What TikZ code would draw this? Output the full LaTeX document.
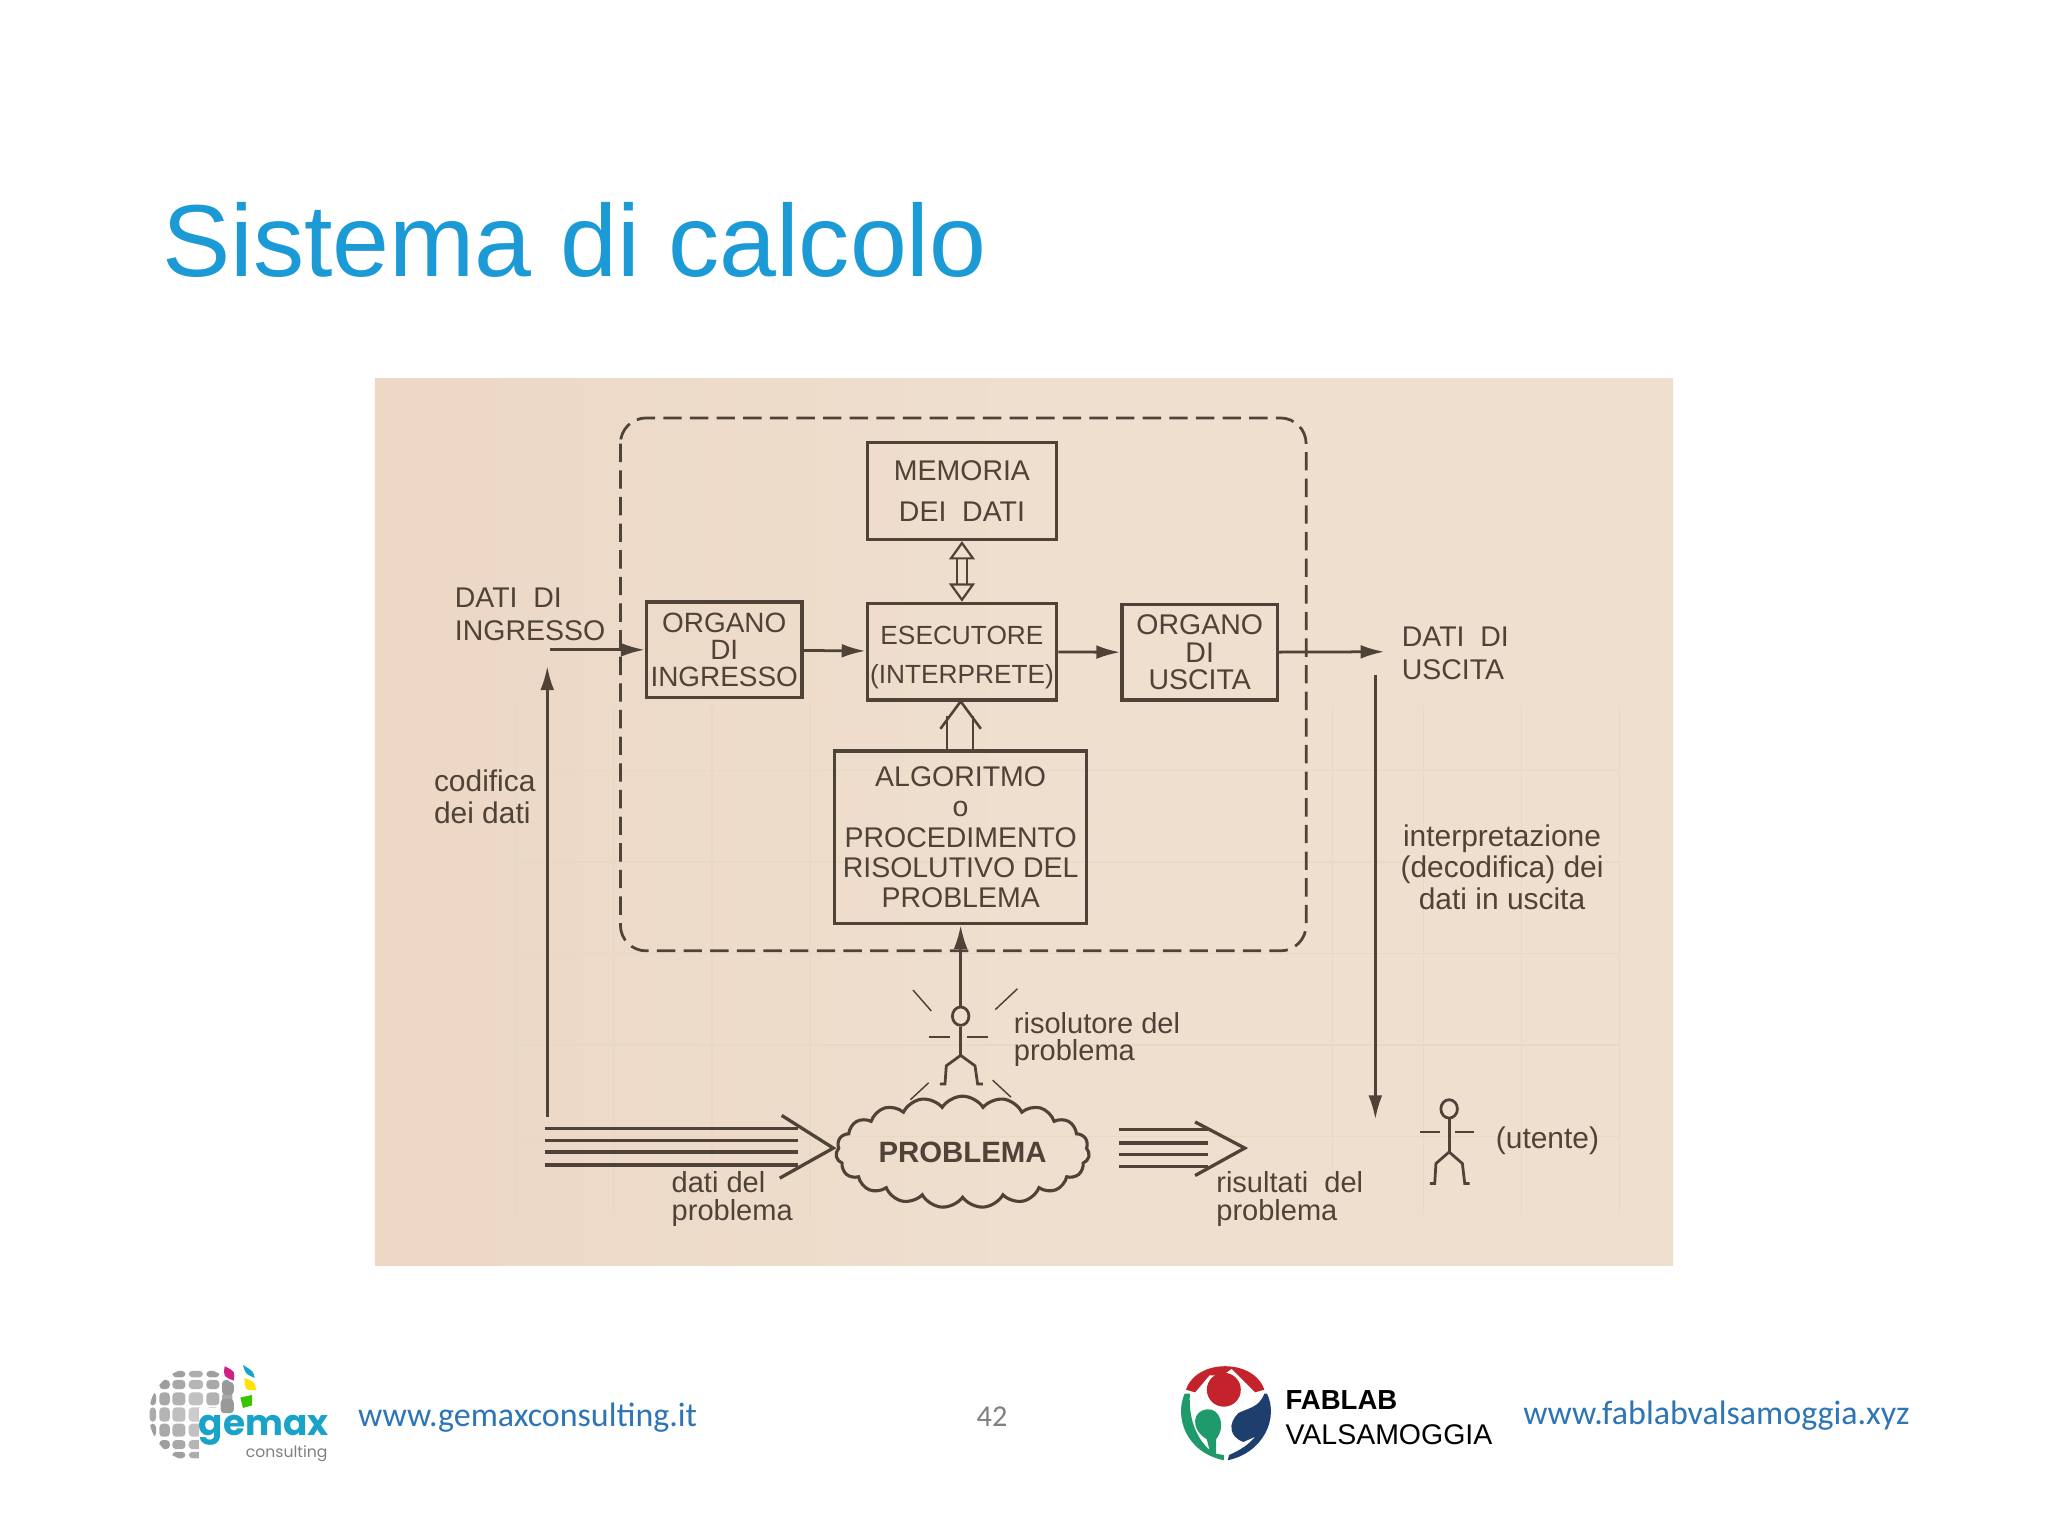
\documentclass[tikz,border=0pt]{standalone}
\usepackage{fontspec}
\setmainfont{Liberation Sans}
\newfontfamily\footfont{Carlito}
\newfontfamily\logofont{Poppins}
\usetikzlibrary{arrows.meta,shapes.symbols,shapes.geometric}
\definecolor{ink}{HTML}{4F4338}
\definecolor{paper}{HTML}{EEDFCE}
\definecolor{paperedge}{HTML}{EDD7C5}
\definecolor{ghost}{HTML}{E8D9C7}
\definecolor{titleblue}{HTML}{1B9AD6}
\definecolor{linkblue}{HTML}{2E75B6}
\definecolor{gemaxcyan}{HTML}{19A3C9}
\definecolor{labred}{HTML}{C4232B}
\definecolor{labgreen}{HTML}{1F9A6B}
\definecolor{labblue}{HTML}{1E3F6E}
\tikzset{
	labeltext/.style={text=ink,inner sep=0pt,align=#1,font=\fontsize{16.3}{17}\selectfont},
	blockbox/.style={draw=ink,line width=1.8pt,text=ink,inner sep=0pt,align=center},
	flow/.style={draw=ink,line width=1.5pt,->,>={Latex[length=13pt,width=7.5pt]}},
	linktext/.style={text=linkblue,inner sep=0pt,font=\footfont\fontsize{18.5}{20}\selectfont},
	stickman/.pic={
		\node[draw=ink,line width=1.5pt,ellipse,minimum width=9pt,minimum height=10pt,inner sep=0pt] (-head) at (0,0) {};
		\draw[draw=ink,line width=1.5pt] (-head) -- (0,30);
		\draw[draw=ink,line width=1.5pt] (-24,16) -- (-8,16) (5,16) -- (21,16);
		\draw[draw=ink,line width=1.5pt] (-16,52) -- (-12,52) -- (-11,38) -- (0,30) -- (11,38) -- (13,52) -- (17,52);
	}
}
\begin{document}
\begin{tikzpicture}[x=0.025cm,y=-0.025cm]
		\useasboundingbox (0,0) rectangle (1568,1176);
		\node[anchor=base west,inner sep=0pt,text=titleblue,font=\fontsize{55.7}{60}\selectfont] (title) at (124,212) {Sistema di calcolo};

		\fill[left color=paperedge,right color=paper,middle color=paper] (287,290) rectangle (1281,969);
		\foreach \gx in {395,470,545,620,1020,1090,1165,1240}
			\draw[ghost,line width=0.8pt] (\gx,540) -- (\gx,930);
		\foreach \gy in {590,660,730,800,870}
			\draw[ghost,line width=0.8pt] (395,\gy) -- (1240,\gy);

		\draw[ink,line width=1.5pt,dash pattern=on 10pt off 4.5pt,rounded corners=14pt] (475,320) rectangle (1000,728);

		\node[blockbox,minimum width=3.625cm,minimum height=1.85cm,font=\fontsize{15.5}{22}\selectfont] (mem) at (736.5,376) {MEMORIA\\DEI\ \ DATI};
		\node[blockbox,minimum width=2.975cm,minimum height=1.825cm,font=\fontsize{15.2}{14.5}\selectfont] (orgin) at (554.5,497.5) {ORGANO\\DI\\INGRESSO};
		\node[blockbox,minimum width=3.625cm,minimum height=1.85cm,font=\fontsize{14.3}{21.5}\selectfont] (esec) at (736.5,499) {\rule{0pt}{16.5pt}ESECUTORE\\(INTERPRETE)};
		\node[blockbox,minimum width=2.975cm,minimum height=1.825cm,font=\fontsize{15.5}{15}\selectfont] (orgout) at (918.5,499.5) {ORGANO\\DI\\USCITA};
		\node[blockbox,minimum width=4.825cm,minimum height=3.3cm,font=\fontsize{15.5}{16.5}\selectfont] (algo) at (735.5,641) {ALGORITMO\\o\\PROCEDIMENTO\\RISOLUTIVO DEL\\PROBLEMA};

		\node[labeltext=left,anchor=west,font=\fontsize{15.5}{18}\selectfont] (datiin) at (348,470) {DATI\ \ DI\\INGRESSO};
		\node[labeltext=left,anchor=west,font=\fontsize{15.5}{18}\selectfont] (datiout) at (1073,500) {DATI\ \ DI\\USCITA};
		\node[labeltext=left,anchor=west] (codifica) at (332,610) {codifica\\dei dati};
		\node[labeltext=center] (interp) at (1150,664) {interpretazione\\(decodifica) dei\\dati in uscita};
		\node[labeltext=left,anchor=west,font=\fontsize{15.8}{15}\selectfont] (risol) at (776,796) {risolutore\ del\\problema};
		\node[labeltext=left,anchor=west,font=\fontsize{15.8}{15}\selectfont] (datipb) at (514,918) {dati\ del\\problema};
		\node[labeltext=left,anchor=west,font=\fontsize{15.8}{15}\selectfont] (risult) at (931,918) {risultati\ \ del\\problema};
		\node[labeltext=left,anchor=west] (utente) at (1145,873) {(utente)};

		\node[cloud,draw=ink,line width=1.7pt,cloud puffs=19,cloud puff arc=115,aspect=2.6,minimum width=4.85cm,minimum height=1.8cm,inner sep=0pt,text=ink,font=\bfseries\fontsize{16}{17}\selectfont] (problema) at (737,882) {PROBLEMA};

		\pic (solver) at (735.5,778) {stickman};
		\pic[yscale=1.1,xscale=0.92] (user) at (1109.5,849) {stickman};
		\draw[ink,line width=0.8pt] (699,758) -- (713,774) (779,757) -- (762,773) (711,829) -- (697,842) (760,827) -- (774,840);

		\coordinate (inA) at (421,497.5);
		\coordinate (outA) at (1060,499);
		\coordinate (upA) at (419,855);
		\coordinate (upB) at (419,510);
		\coordinate (downA) at (1053,517);
		\coordinate (downB) at (1053,857);

		\draw[flow] (inA) -- (orgin);
		\draw[flow] (orgin) -- (esec);
		\draw[flow] (esec) -- (orgout);
		\draw[flow] (orgout) -- (outA);
		\draw[flow] (upA) -- (upB);
		\draw[flow] (downA) -- (downB);
		\draw[flow] (solver-head) -- (algo);

		\draw[ink,line width=1.2pt,double=paper,double distance=4pt,{Triangle[open,fill=paper,length=10pt,width=14pt]}-{Triangle[open,fill=paper,length=10pt,width=14pt]}] (mem) -- (esec);
		\coordinate (algoL) at (725,575);
		\coordinate (algoR) at (745,575);
		\coordinate (esecL) at (725,548);
		\coordinate (esecR) at (745,548);
		\draw[ink,line width=1.4pt] (algoL) -- (esecL) (algoR) -- (esecR);
		\draw[ink,line width=1.4pt] (720,558) -- (735.5,537) -- (751,558);

		\foreach \ly in {864,873.4,882,892}
			\draw[ink,line width=1.8pt] (417,\ly) -- (611,\ly);
		\draw[ink,line width=1.8pt] (598.5,854) -- (638,879) -- (597,902);
		\foreach \ly in {865,875,884,893}
			\draw[ink,line width=1.8pt] (857,\ly) -- (925,\ly);
		\draw[ink,line width=1.8pt] (915,859) -- (953,879) -- (915,900);

		\node[anchor=base west,linktext] (urlgemax) at (274,1092) {www.gemaxconsulting.it};
		\node[anchor=base,inner sep=0pt,text=gray,font=\footfont\fontsize{16.5}{18}\selectfont] (pagenum) at (759.5,1092) {42};
		\node[anchor=base west,linktext] (urlfablab) at (1166,1091) {www.fablabvalsamoggia.xyz};

		\begin{scope}
			\clip (150,1083) circle (36);
			\foreach \cx/\wx in {-33/5,-24/8,-13/10,0/11,13/10,24/8}
				\foreach \cy/\wy in {-31/5,-23/7,-12/10,0/11,12/10,23/7,31/5}{
					\pgfmathtruncatemacro\tone{40+0.8*(abs(\cx)+abs(\cy))}
					\fill[gray!\tone,rounded corners=2pt] (150+\cx-\wx/2,1083+\cy-\wy/2) rectangle ++(\wx,\wy);
				}
		\end{scope}
		\fill[white] (152,1078) rectangle (190,1120);
		\fill[gray!80,rounded corners=2pt] (170,1058) rectangle ++(9,10) (169,1071) rectangle ++(10,11);
		\fill[magenta!85!black] (172,1046) .. controls (180,1050) .. (179,1057) .. controls (171,1054) .. (172,1046);
		\fill[gemaxcyan] (186,1045) .. controls (194,1050) .. (195,1055) .. controls (188,1052) .. (186,1045);
		\fill[yellow!85!orange] (187,1055) .. controls (195,1058) .. (196,1064) .. controls (188,1065) .. (187,1055);
		\fill[green!55!olive] (184,1070) -- (193,1068) -- (193,1076) -- (186,1078) -- cycle;
		\node[anchor=base west,inner sep=0pt,text=gemaxcyan,font=\logofont\bfseries\fontsize{19.5}{22}\selectfont] (gemaxword) at (152,1099) {gemax};
		\node[anchor=base east,inner sep=0pt,text=gray,font=\logofont\fontsize{8.5}{10}\selectfont] (gemaxsub) at (251,1116) {consulting};

		\fill[labred] (908,1064) .. controls (916,1040) and (960,1040) .. (968,1064) -- (961,1066) -- (943,1048) -- (936,1053) -- (926,1053) -- (915,1066) -- cycle;
		\fill[labred] (937,1064) circle (13);
		\fill[labgreen] (907,1067) .. controls (899,1085) and (908,1112) .. (937,1118) -- (937,1114) -- (931,1113) -- (931,1102) .. controls (939,1092) and (934,1078) .. (924,1079) .. controls (913,1080) and (911,1094) .. (924,1102) -- (926,1110) .. controls (915,1100) and (910,1085) .. (911,1067) -- cycle;
		\fill[labblue] (970,1067) .. controls (979,1085) and (968,1112) .. (940,1118) -- (941,1114) .. controls (950,1110) and (956,1106) .. (961,1100) -- (952,1104) .. controls (941,1100) and (940,1090) .. (948,1082) .. controls (955,1078) and (964,1078) .. (968,1067) -- cycle;
		\node[anchor=base west,inner sep=0pt,text=black,font=\bfseries\fontsize{15}{17}\selectfont] (fablab) at (984,1079) {FABLAB};
		\node[anchor=base west,inner sep=0pt,text=black,font=\fontsize{15.5}{17}\selectfont] (valsa) at (984,1106) {VALSAMOGGIA};
		\end{tikzpicture}
\end{document}
